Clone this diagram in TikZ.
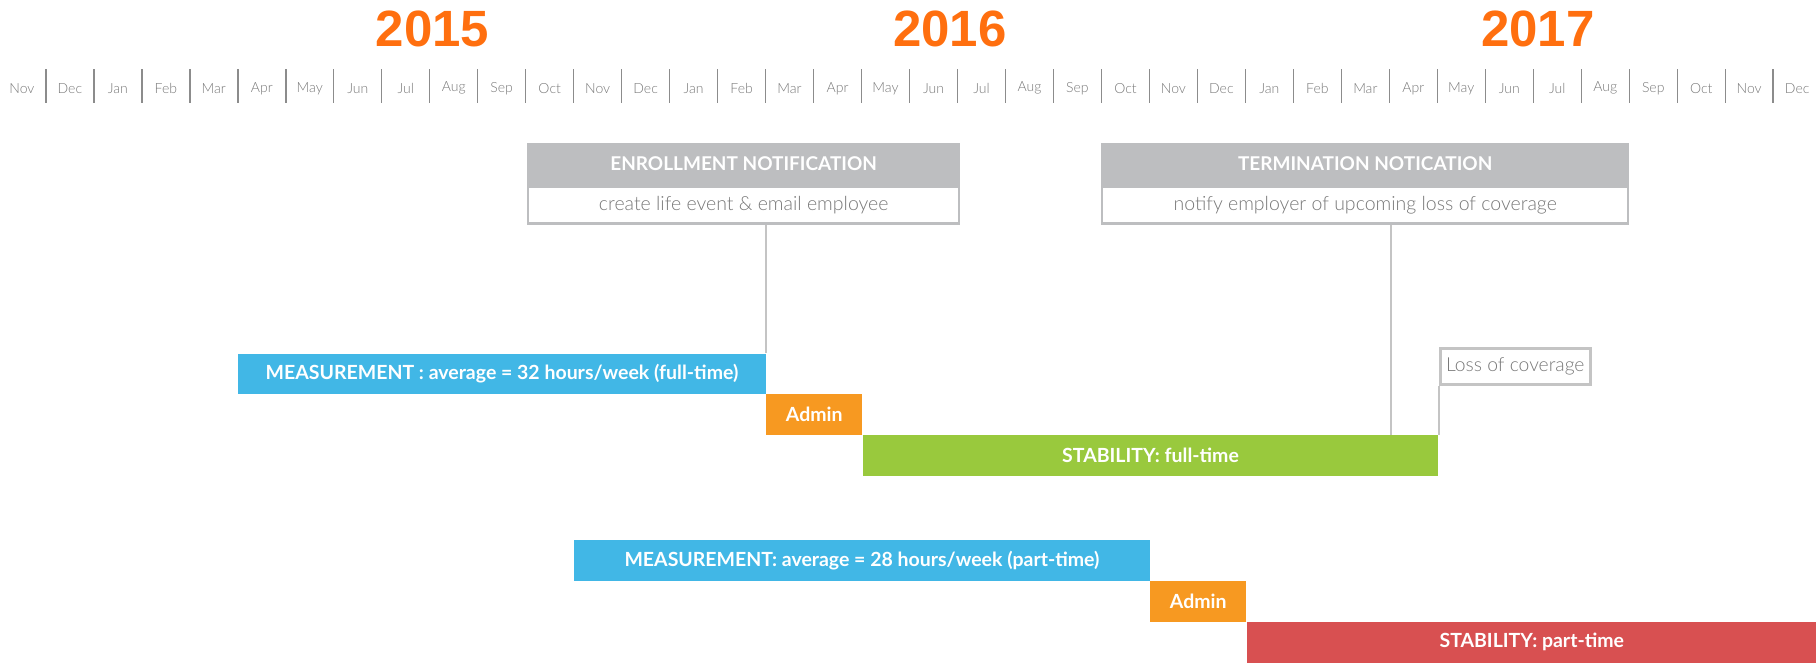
\documentclass[tikz,border=0pt]{standalone}
\usepackage{fontspec}
\setmainfont{Lato}
\newfontfamily\lightfont{Lato Light}
\newfontfamily\yearfont{Liberation Sans}
\usetikzlibrary{positioning}
\definecolor{ink}{RGB}{120,120,120}
\definecolor{rule}{RGB}{140,140,140}
\definecolor{frame}{RGB}{189,190,192}
\definecolor{wire}{RGB}{196,196,196}
\definecolor{yearC}{RGB}{255,111,15}
\definecolor{measC}{RGB}{65,183,230}
\definecolor{adminC}{RGB}{247,153,33}
\definecolor{stabF}{RGB}{153,201,61}
\definecolor{stabP}{RGB}{216,80,81}
\newcommand{\mw}{47.98}
\tikzset{
  month/.style={font=\lightfont\fontsize{14}{16}\selectfont,text=ink},
  monthsep/.style={draw=rule,line width=1.4pt},
  year/.style={font=\yearfont\bfseries\fontsize{51}{60}\selectfont,text=yearC},
  mspan/.style={minimum width=#1*\mw pt},
  bar/.style={anchor=north west,inner sep=0pt,minimum height=40.5pt,
    font=\bfseries\fontsize{19.5}{22}\selectfont,text=white},
  head/.style={anchor=north west,inner sep=0pt,minimum height=40.5pt,fill=frame,
    draw=frame,line width=2.3pt,font=\bfseries\fontsize{19}{22}\selectfont,text=white},
  body/.style={anchor=north,inner sep=0pt,minimum height=37pt,fill=white,
    draw=frame,line width=2.3pt,font=\lightfont\fontsize{19.5}{22}\selectfont,text=ink},
  link/.style={draw=wire,line width=2.2pt},
  lossbox/.style={anchor=south west,draw=wire,line width=3pt,inner xsep=6pt,
    inner ysep=0pt,minimum height=36pt,font=\lightfont\fontsize{19.3}{22}\selectfont,text=ink},
}

\begin{document}
\begin{tikzpicture}[x=1pt,y=-1pt]
  \useasboundingbox (0,0) rectangle (1816,664);
  \node[year] (y15) at (432.5,29) {2015};
  \node[year] (y16) at (950,29) {2016};
  \node[year] (y17) at (1538,29) {2017};
  % month strip, Nov 2014 to Dec 2017
  \foreach \m [count=\i from 0] in {Nov,Dec,Jan,Feb,Mar,Apr,May,Jun,Jul,Aug,Sep,Oct,
      Nov,Dec,Jan,Feb,Mar,Apr,May,Jun,Jul,Aug,Sep,Oct,
      Nov,Dec,Jan,Feb,Mar,Apr,May,Jun,Jul,Aug,Sep,Oct,Nov,Dec}
    \node[month] (m\i) at ({21.9+\mw*\i},88.3) {\m};
  \foreach \k in {0,...,36}
    \draw[monthsep] ({45.9+\mw*\k},69.3) -- ++(0,33.4);

  \node[head,minimum width=431pt] (enrollHead) at (527,142.5) {ENROLLMENT NOTIFICATION};
  \node[body,minimum width=431pt] (enrollBody) at (enrollHead.south) {create life event \& email employee};
  \node[head,minimum width=526pt] (termHead) at (1101,142.5) {TERMINATION NOTICATION};
  \node[body,minimum width=526pt] (termBody) at (termHead.south) {notify employer of upcoming loss of coverage};

  % full-time track
  \node[bar,fill=measC,mspan=11] (meas1) at (237.9,353.3) {MEASUREMENT : average = 32 hours/week (full-time)};
  \node[bar,fill=adminC,mspan=2] (admin1) at (meas1.south east) {Admin};
  \node[bar,fill=stabF,mspan=12] (stab1) at (admin1.south east) {STABILITY: full-time};
  % part-time track
  \node[bar,fill=measC,mspan=12] (meas2) at (573.9,540) {MEASUREMENT: average = 28 hours/week (part-time)};
  \node[bar,fill=adminC,mspan=2] (admin2) at (meas2.south east) {Admin};
  \node[bar,fill=stabP,minimum width=570.3pt] (stab2) at (admin2.south east) {STABILITY: part-time};

  \node[lossbox] (loss) at ([yshift=49pt]stab1.north east) {Loss of coverage};

  \draw[link] (meas1.north east) -- (meas1.north east |- enrollBody.south);
  \coordinate (termFoot) at ([xshift=-\mw pt]stab1.north east);
  \draw[link] (termFoot) -- (termFoot |- termBody.south);
  \draw[link] (loss.south west) -- (stab1.north east);
\end{tikzpicture}
\end{document}
